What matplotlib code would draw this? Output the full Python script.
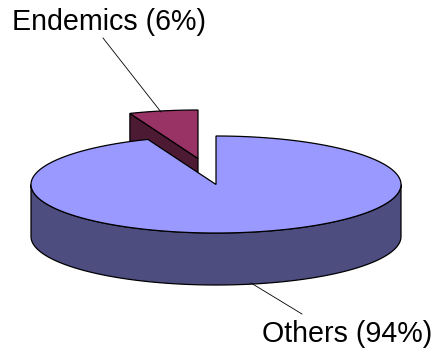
import numpy as np
import matplotlib
matplotlib.use("Agg")
import matplotlib.pyplot as plt
from matplotlib.patches import Polygon

categories = ["Others", "Endemics"]
values = [94, 6]
labels = ["Others (94%)", "Endemics (6%)"]
top_colors = ["#9999FF", "#993366"]
side_colors = ["#4D4D80", "#4D1A33"]

W, H = 438, 350
fig = plt.figure(figsize=(W / 100, H / 100), dpi=100)
ax = fig.add_axes([0, 0, 1, 1])
ax.set_xlim(0, W)
ax.set_ylim(H, 0)
ax.axis("off")

cx, cy, rx, ry, depth = 216, 184.5, 185, 48.5, 52
lw = 0.9

total = float(sum(values))
frac_end = values[1] / total
a0 = 90.0
a1 = 90.0 + 360.0 * frac_end  # endemics spans a0..a1 (counter-clockwise)


def pt(t, ox=0.0, oy=0.0, dz=0.0):
    r = np.radians(t)
    return (cx + ox + rx * np.cos(r), cy + oy - ry * np.sin(r) + dz)


# ---- Endemics (exploded) ----
ox, oy = -18, -26
apex = (cx + ox, cy + oy)
left = pt(a1, ox, oy)
cut = [apex, left, (left[0], left[1] + depth), (apex[0], apex[1] + depth)]
ax.add_patch(Polygon(cut, closed=True, facecolor=side_colors[1], edgecolor="black", lw=lw, zorder=1))
ts = np.linspace(a0, a1, 30)
top_e = [apex] + [pt(t, ox, oy) for t in ts]
ax.add_patch(Polygon(top_e, closed=True, facecolor=top_colors[1], edgecolor="black", lw=lw, zorder=2))

# ---- Others ----
ts_side = np.linspace(180, 360, 200)
upper = [pt(t) for t in ts_side]
lower = [pt(t, dz=depth) for t in ts_side[::-1]]
ax.add_patch(Polygon(upper + lower, closed=True, facecolor=side_colors[0], edgecolor="black", lw=lw, zorder=3))
ts_top = np.linspace(a1, 450, 400)
top_o = [(cx, cy)] + [pt(t) for t in ts_top]
ax.add_patch(Polygon(top_o, closed=True, facecolor=top_colors[0], edgecolor="black", lw=lw, zorder=4))

# ---- labels ----
font = dict(family="Liberation Sans", fontsize=20.6, color="black")
ax.plot([103, 161], [38, 112], color="black", lw=0.6, zorder=5)
ax.text(12, 29.5, labels[1], ha="left", va="baseline", **font)
ax.plot([251, 302], [283, 314], color="black", lw=0.6, zorder=5)
ax.text(262, 342.5, labels[0], ha="left", va="baseline", **font)

fig.savefig("out.png", dpi=100)
